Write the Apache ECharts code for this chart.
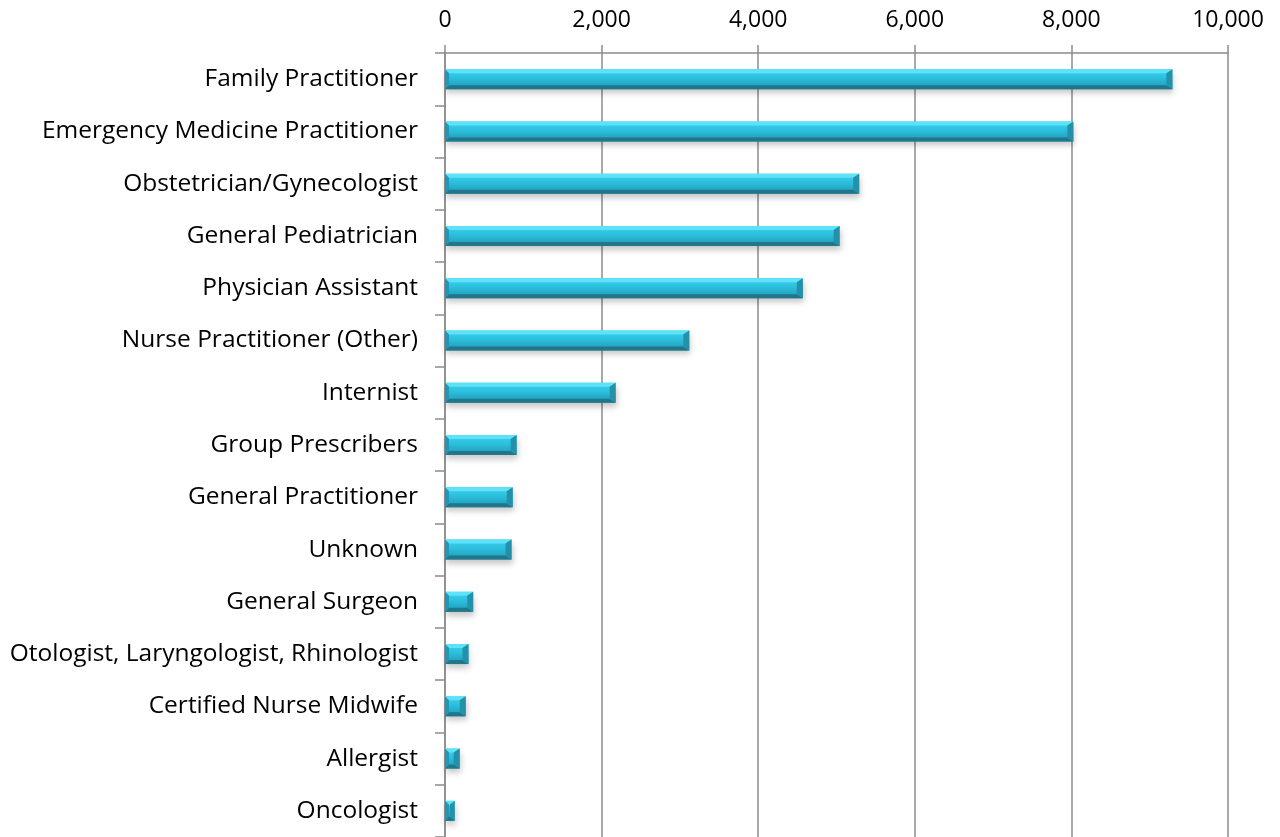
<!DOCTYPE html>
<html>
<head>
<meta charset="utf-8">
<script src="https://cdn.jsdelivr.net/npm/echarts@6/dist/echarts.min.js"></script>
<style>
html,body{margin:0;padding:0;background:#fff;}
#container{width:1280px;height:837px;}
</style>
</head>
<body>
<div id="container"></div>
<script>
let categories = [
    "Family Practitioner",
    "Emergency Medicine Practitioner",
    "Obstetrician/Gynecologist",
    "General Pediatrician",
    "Physician Assistant",
    "Nurse Practitioner (Other)",
    "Internist",
    "Group Prescribers",
    "General Practitioner",
    "Unknown",
    "General Surgeon",
    "Otologist, Laryngologist, Rhinologist",
    "Certified Nurse Midwife",
    "Allergist",
    "Oncologist"
];
let values = [9290, 8025, 5290, 5040, 4570, 3120, 2180, 915, 865, 850, 360, 300, 265, 188, 124];
let xTicks = [0, 2000, 4000, 6000, 8000, 10000];

// bevelled bar, drawn from the axis coordinates
function bevelBar(params, api){
    let idx = api.value(0);
    let val = api.value(1);
    let start = api.coord([0, idx]);
    let end = api.coord([val, idx]);
    let h = 20;
    let x0 = start[0], x1 = end[0];
    let y0 = start[1] - h / 2, y1 = start[1] + h / 2;
    let w = x1 - x0;
    let b = Math.min(4, w / 2);
    let br = Math.min(6, w / 2);
    return {
        type: 'group',
        children: [
            {
                type: 'rect',
                shape: {x: x0, y: y0, width: w, height: h},
                style: {
                    fill: new echarts.graphic.LinearGradient(0, 0, 0, 1, [
                        {offset: 0, color: '#3dd2ee'},
                        {offset: 0.45, color: '#2bbfdd'},
                        {offset: 1, color: '#1f97b3'}
                    ]),
                    shadowBlur: 6,
                    shadowOffsetX: 1,
                    shadowOffsetY: 4,
                    shadowColor: 'rgba(0,0,0,0.22)'
                }
            },
            {
                type: 'polygon',
                shape: {points: [[x0, y0], [x1, y0], [x1 - br, y0 + b], [x0 + b, y0 + b]]},
                style: {fill: '#5de2f7'}
            },
            {
                type: 'polygon',
                shape: {points: [[x0, y1], [x1, y1], [x1 - br, y1 - b], [x0 + b, y1 - b]]},
                style: {fill: '#23758a'}
            },
            {
                type: 'polygon',
                shape: {points: [[x1, y0], [x1, y1], [x1 - br, y1 - b], [x1 - br, y0 + b]]},
                style: {fill: '#2591a9'}
            },
            {
                type: 'polygon',
                shape: {points: [[x0, y0], [x0 + b, y0 + b], [x0 + b, y1 - b], [x0, y1]]},
                style: {fill: '#2197b3'}
            }
        ]
    };
}

let dom = document.getElementById("container");
let chart = echarts.init(dom);

chart.setOption({
    animation: false,
    textStyle: {fontFamily: 'Open Sans'},
    grid: {left: 445, right: 52, top: 53, bottom: -2, containLabel: false},
    xAxis: {
        type: 'value',
        position: 'top',
        min: 0,
        max: 10000,
        interval: 2000,
        axisLine: {show: true, lineStyle: {color: '#8c8c8c', width: 1.5}},
        axisTick: {show: true, length: 8, lineStyle: {color: '#8c8c8c', width: 1.5}},
        splitLine: {show: true, lineStyle: {color: '#8c8c8c', width: 1.5}},
        axisLabel: {
            margin: 21,
            fontSize: 23,
            color: '#000',
            fontFamily: 'Open Sans',
            formatter: function(v){ return xTicks.indexOf(v) >= 0 ? v.toLocaleString('en-US') : ''; }
        }
    },
    yAxis: {
        type: 'category',
        data: categories,
        inverse: true,
        axisLine: {show: true, lineStyle: {color: '#8c8c8c', width: 1.5}},
        axisTick: {show: true, length: 10, lineStyle: {color: '#8c8c8c', width: 1.5}},
        axisLabel: {margin: 27, fontSize: 24.5, color: '#000', fontFamily: 'Open Sans'}
    },
    series: [{
        type: 'custom',
        renderItem: bevelBar,
        encode: {x: 1, y: 0},
        data: values.map((v, i) => [i, v])
    }]
});
</script>
</body>
</html>
